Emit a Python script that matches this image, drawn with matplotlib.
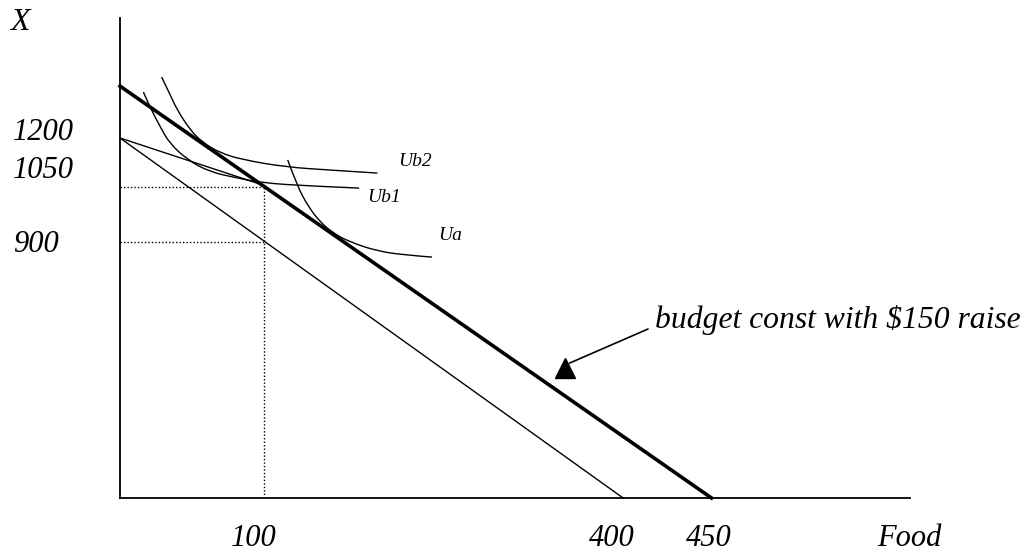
import numpy as np
import matplotlib.pyplot as plt
from matplotlib.path import Path
from matplotlib.patches import PathPatch

### Data (sketch units)

# budget lines: intercepts
budget_old_x = [0, 387]
budget_old_y = [1200, 0]
budget_new_x = [0, 455]
budget_new_y = [1373, 0]

# pivoted line from the old intercept
pivot_x = [0, 110]
pivot_y = [1200, 1043]

# indifference curves
ub2_x = [32, 38, 44, 54, 63, 77, 95, 128, 162, 198]
ub2_y = [1403, 1350, 1293, 1227, 1187, 1150, 1127, 1103, 1093, 1083]
ub1_x = [18, 23, 31, 38, 52, 69, 90, 110, 146, 184]
ub1_y = [1353, 1303, 1237, 1183, 1127, 1087, 1067, 1050, 1040, 1033]
ua_x = [129, 136, 145, 154, 164, 177, 198, 219, 240]
ua_y = [1127, 1043, 970, 920, 883, 853, 823, 810, 803]

# dotted guide lines
guide_x = 111
guide_y = [1037, 853]

y_labels = ['1200', '1050', '900']
x_labels = ['100', '400', '450']

W, H = 1031, 553
font = dict(family='Liberation Serif', style='italic', color='black')


def smooth_curve(ax, xs, ys):
    # quadratic bezier: read points as control points, knots at midpoints
    pts = np.column_stack([xs, ys]).astype(float)
    verts = [pts[0]]
    codes = [Path.MOVETO]
    for i in range(1, len(pts) - 1):
        end = pts[i + 1] if i == len(pts) - 2 else (pts[i] + pts[i + 1]) / 2
        verts += [pts[i], end]
        codes += [Path.CURVE3, Path.CURVE3]
    ax.add_patch(PathPatch(Path(verts, codes), fc='none', ec='k', lw=1.0))


fig = plt.figure(figsize=(W / 100, H / 100), dpi=100)
ax = fig.add_axes([120 / W, 55 / H, 790 / W, 480 / H])
ax.set_xlim(0, 790 / 1.3)
ax.set_ylim(0, 1600)
for s in ['top', 'right']:
    ax.spines[s].set_visible(False)
for s in ['left', 'bottom']:
    ax.spines[s].set_linewidth(1.3)
ax.set_xticks([])
ax.set_yticks([])

ax.plot(budget_old_x, budget_old_y, c='k', lw=1.0, clip_on=False)
ax.plot(budget_new_x, budget_new_y, c='k', lw=2.6, clip_on=False,
        solid_capstyle='projecting')
ax.plot(pivot_x, pivot_y, c='k', lw=1.0)

for cx, cy in [(ub2_x, ub2_y), (ub1_x, ub1_y), (ua_x, ua_y)]:
    smooth_curve(ax, cx, cy)

ax.plot([guide_x, guide_x], [0, guide_y[0]], c='k', lw=1.0, ls=(0, (1, 1.5)))
for gy in guide_y:
    ax.plot([0, guide_x], [gy, gy], c='k', lw=1.0, ls=(0, (1, 1.5)))

# arrow pointing at new budget line
ax.plot([406, 346], [563, 450], c='k', lw=1.2)
ax.plot([342], [435], marker='^', ms=14.5, c='k', ls='none')


def label(px, py, s, size=22, ha='left'):
    fig.text(px / W, 1 - py / H, s, fontsize=size, ha=ha, va='center', **font)


label(10, 23, 'X', size=23)
for s, py in zip(y_labels, [133, 171, 244]):
    label(13, py, s)
for s, px in zip(x_labels, [254, 612, 709]):
    label(px, 538, s, ha='center')
label(877, 538, 'Food')
label(398, 161, 'Ub2', size=14)
label(367, 198, 'Ub1', size=14)
label(438, 235, 'Ua', size=14)
label(655, 320, 'budget const with \\$150 raise', size=22.8)

plt.savefig('out.png', dpi=100)
